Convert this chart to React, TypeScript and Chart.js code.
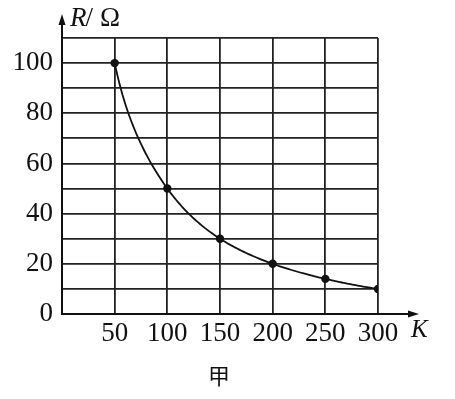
import React, { useEffect, useRef } from "react";
import { Chart, registerables } from "chart.js";

Chart.register(...registerables);

const kValues = [50, 100, 150, 200, 250, 300];
const rValues = [100, 50, 30, 20, 14, 10];
const yLabelTicks = [0, 20, 40, 60, 80, 100];
const xLabelTicks = [50, 100, 150, 200, 250, 300];
const yAxisTitleItalic = "R";
const yAxisTitleRest = "/";
const yAxisUnit = "Ω";
const xAxisTitle = "K";
const caption = "甲";

const SERIF = '"Liberation Serif", "Times New Roman", serif';

// smooth curve through the data points (Hermite spline in log-log space), drawn via chart scales
const curvePlugin = {
  id: "curve",
  beforeDatasetsDraw(chart: any) {
    const { ctx, scales } = chart;
    const xs = kValues.map((v) => Math.log(v));
    const ys = rValues.map((v) => Math.log(v));
    const n = xs.length;
    const h: number[] = [];
    const s: number[] = [];
    for (let i = 0; i < n - 1; i++) {
      h.push(xs[i + 1] - xs[i]);
      s.push((ys[i + 1] - ys[i]) / h[i]);
    }
    const m: number[] = [];
    for (let i = 0; i < n; i++) {
      if (i === 0) m.push(s[0]);
      else if (i === n - 1) m.push(s[n - 2]);
      else m.push((s[i - 1] * h[i] + s[i] * h[i - 1]) / (h[i - 1] + h[i]));
    }
    ctx.save();
    ctx.beginPath();
    ctx.strokeStyle = "#111";
    ctx.lineWidth = 1.8;
    for (let i = 0; i < n - 1; i++) {
      const steps = 30;
      for (let j = 0; j <= steps; j++) {
        if (i > 0 && j === 0) continue;
        const t = j / steps;
        const t2 = t * t;
        const t3 = t2 * t;
        const h00 = 2 * t3 - 3 * t2 + 1;
        const h10 = t3 - 2 * t2 + t;
        const h01 = -2 * t3 + 3 * t2;
        const h11 = t3 - t2;
        const lx = xs[i] + t * h[i];
        const ly = h00 * ys[i] + h10 * h[i] * m[i] + h01 * ys[i + 1] + h11 * h[i] * m[i + 1];
        const px = scales.x.getPixelForValue(Math.exp(lx));
        const py = scales.y.getPixelForValue(Math.exp(ly));
        if (i === 0 && j === 0) ctx.moveTo(px, py);
        else ctx.lineTo(px, py);
      }
    }
    ctx.stroke();
    ctx.restore();
  },
};

const decorPlugin = {
  id: "decor",
  afterDraw(chart: any) {
    const { ctx, chartArea } = chart;
    const { left, right, top, bottom } = chartArea;
    ctx.save();
    ctx.strokeStyle = "#111";
    ctx.fillStyle = "#111";
    ctx.lineWidth = 2;
    // y axis arrow
    ctx.beginPath();
    ctx.moveTo(left, top);
    ctx.lineTo(left, 22);
    ctx.stroke();
    ctx.beginPath();
    ctx.moveTo(left, 14);
    ctx.lineTo(left - 3.5, 25);
    ctx.lineTo(left + 3.5, 25);
    ctx.closePath();
    ctx.fill();
    // x axis arrow
    ctx.beginPath();
    ctx.moveTo(right, bottom);
    ctx.lineTo(right + 32, bottom);
    ctx.stroke();
    ctx.beginPath();
    ctx.moveTo(right + 41, bottom);
    ctx.lineTo(right + 30, bottom - 3.5);
    ctx.lineTo(right + 30, bottom + 3.5);
    ctx.closePath();
    ctx.fill();
    // y axis title
    ctx.textBaseline = "alphabetic";
    ctx.textAlign = "left";
    ctx.font = `italic 27px ${SERIF}`;
    ctx.fillText(yAxisTitleItalic, left + 8, 26);
    const rw = ctx.measureText(yAxisTitleItalic).width;
    ctx.font = `27px ${SERIF}`;
    ctx.fillText(yAxisTitleRest, left + 8 + rw - 1, 26);
    ctx.fillText(yAxisUnit, left + 38, 26);
    // x axis title
    ctx.font = `italic 25px ${SERIF}`;
    ctx.fillText(xAxisTitle, right + 33, bottom + 23);
    // caption
    ctx.font = `22px "Noto Sans CJK SC", sans-serif`;
    ctx.textAlign = "center";
    ctx.fillText(caption, (left + right) / 2 - 1, bottom + 70);
    ctx.restore();
  },
};

export default function App() {
  const ref = useRef<HTMLCanvasElement>(null);
  useEffect(() => {
    if (!ref.current) return;
    const chart = new Chart(ref.current, {
      type: "line",
      data: {
        datasets: [
          {
            data: kValues.map((k, i) => ({ x: k, y: rValues[i] })),
            showLine: false,
            borderColor: "#111",
            backgroundColor: "#111",
            pointRadius: 4.2,
            pointBackgroundColor: "#111",
            pointBorderWidth: 0,
            fill: false,
          },
        ],
      },
      options: {
        responsive: false,
        animation: false,
        layout: { padding: { left: 0, top: 38, right: 77, bottom: 0 } },
        plugins: { legend: { display: false }, tooltip: { enabled: false } },
        scales: {
          x: {
            type: "linear",
            min: 0,
            max: 300,
            afterFit: (s: any) => {
              s.height = 85;
            },
            afterBuildTicks: (s: any) => {
              s.ticks = [0, ...xLabelTicks].map((v) => ({ value: v }));
            },
            ticks: {
              autoSkip: false,
              maxRotation: 0,
              padding: 4,
              color: "#111",
              font: { family: SERIF, size: 27 },
              callback: (v: any) => (xLabelTicks.includes(Number(v)) ? String(v) : ""),
            },
            grid: { color: "#222", lineWidth: 1.8, drawTicks: false },
            border: { color: "#111", width: 2 },
          },
          y: {
            type: "linear",
            min: 0,
            max: 110,
            afterFit: (s: any) => {
              s.width = 62;
            },
            ticks: {
              stepSize: 10,
              autoSkip: false,
              padding: 9,
              color: "#111",
              font: { family: SERIF, size: 27 },
              callback: (v: any) => (yLabelTicks.includes(Number(v)) ? String(v) : ""),
            },
            grid: { color: "#222", lineWidth: 1.8, drawTicks: false },
            border: { color: "#111", width: 2 },
          },
        },
      },
      plugins: [curvePlugin, decorPlugin],
    });
    return () => chart.destroy();
  }, []);
  return (
    <div style={{ position: "fixed", left: 0, top: 0, width: 455, height: 399, background: "#fff" }}>
      <canvas ref={ref} width={455} height={399} style={{ display: "block" }} />
    </div>
  );
}
